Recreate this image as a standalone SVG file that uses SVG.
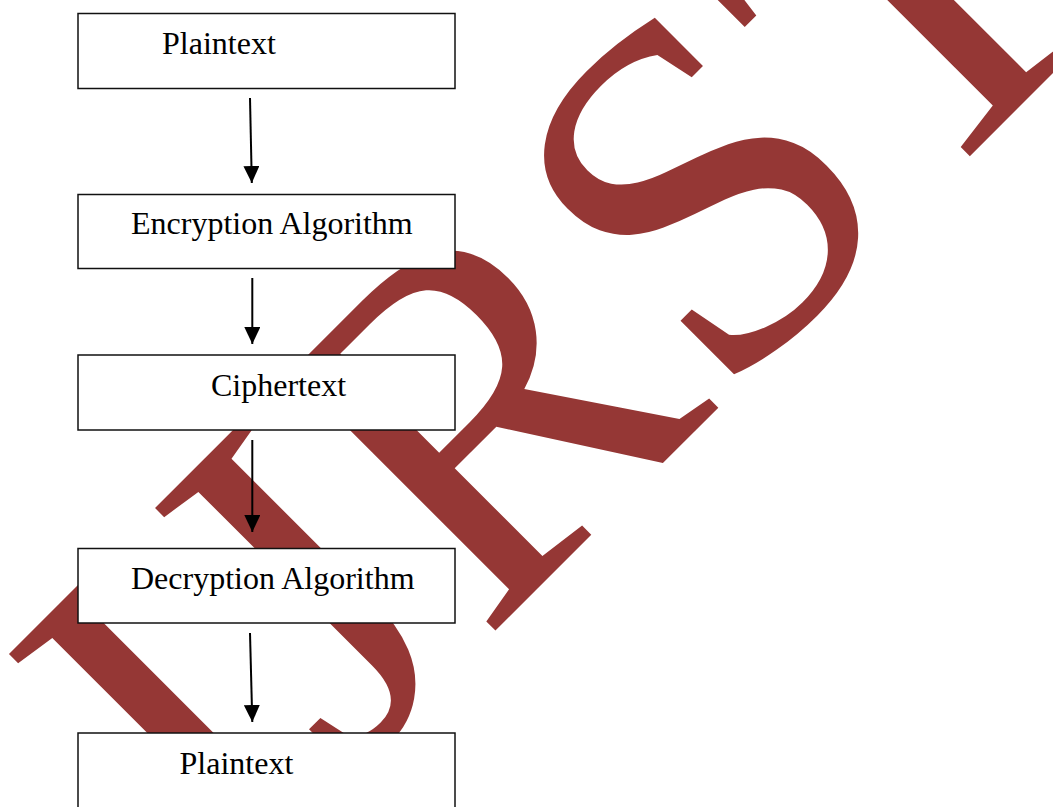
<svg xmlns="http://www.w3.org/2000/svg" width="1053" height="807" viewBox="0 0 1053 807">
  <style>
    .mark { font-family: "Liberation Serif", "Times New Roman", serif; fill: #953735; font-kerning: none; }
    .box rect { fill: #ffffff; stroke: #111111; stroke-width: 1.5; }
    .box text { font-family: "Liberation Serif", "Times New Roman", serif; font-size: 32px; fill: #000000; }
    .edge { stroke: #000000; stroke-width: 2; fill: none; }
  </style>
  <defs>
    <marker id="head" markerWidth="17" markerHeight="16" refX="17" refY="8" orient="auto" markerUnits="userSpaceOnUse" viewBox="0 0 17 16">
      <path d="M0,0 L17,8 L0,16 Z" fill="#000000"/>
    </marker>
  </defs>
  <rect width="1053" height="807" fill="#ffffff"/>

  <!-- background watermark -->
  <text class="mark" x="0" y="0" font-size="500" transform="translate(227.7,898.3) rotate(-45)">IJRST</text>

  <!-- connectors -->
  <g id="connectors">
    <path class="edge" d="M250,98 L251.8,183" marker-end="url(#head)"/>
    <path class="edge" d="M252.3,278 L252.3,344" marker-end="url(#head)"/>
    <path class="edge" d="M252.3,440 L252.3,532" marker-end="url(#head)"/>
    <path class="edge" d="M250,633 L252.3,722" marker-end="url(#head)"/>
  </g>

  <g id="plaintext-in" class="box">
    <rect x="78" y="13.5" width="377" height="75"/>
    <text x="162" y="54">Plaintext</text>
  </g>
  <g id="encryption" class="box">
    <rect x="78" y="194.5" width="377" height="74"/>
    <text x="131" y="233.5">Encryption Algorithm</text>
  </g>
  <g id="ciphertext" class="box">
    <rect x="78" y="355" width="377" height="75"/>
    <text x="211" y="395.5">Ciphertext</text>
  </g>
  <g id="decryption" class="box">
    <rect x="78" y="548.5" width="377" height="74.5"/>
    <text x="131" y="589">Decryption Algorithm</text>
  </g>
  <g id="plaintext-out" class="box">
    <rect x="78" y="733" width="377" height="90"/>
    <text x="179.5" y="773.5">Plaintext</text>
  </g>
</svg>
